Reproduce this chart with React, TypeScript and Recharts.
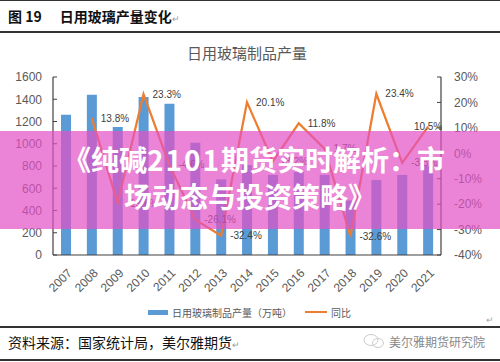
import { ComposedChart, Bar, Line, XAxis, YAxis, LabelList } from "recharts";

// 日用玻璃制品产量（万吨）与同比，2007-2021
const years = ["2007", "2008", "2009", "2010", "2011", "2012", "2013", "2014", "2015", "2016", "2017", "2018", "2019", "2020", "2021"];
const output = [1260, 1440, 1150, 1420, 1360, 1010, 680, 810, 720, 745, 720, 490, 675, 720, 805];
const yoy = [null, 13.8, -19.6, 23.3, -4.6, -26.1, -32.4, 20.1, -3.2, 11.8, 1.7, -32.6, 23.4, -3.8, 10.5];
const leftTicks = [0, 200, 400, 600, 800, 1000, 1200, 1400, 1600];
const rightTicks = [-40, -30, -20, -10, 0, 10, 20, 30];

const BLUE = "#5B9BD5";
const ORANGE = "#ED7D31";
const AXIS = "#404040";
const GREY = "#595959";
const CJK = '"Noto Sans CJK SC", "Noto Sans", sans-serif';
const LATIN = '"Liberation Sans", Arial, sans-serif';

const rows = years.map((year, i) => ({ year, output: output[i], yoy: yoy[i] }));

function YearTick(props: any) {
  const { x, y, payload } = props;
  const tx = x + 4;
  const ty = y + 8;
  return (
    <text
      x={tx}
      y={ty}
      transform={`rotate(-45 ${tx} ${ty})`}
      textAnchor="end"
      dominantBaseline="central"
      fontSize={12}
      fontFamily={LATIN}
      fill={GREY}
    >
      {payload.value}
    </text>
  );
}

function YoyLabel(props: any) {
  const { x, y, value, index } = props;
  if (value == null) return null;
  const last = index === years.length - 1;
  return (
    <text
      x={last ? x : x + 9}
      y={y}
      textAnchor={last ? "middle" : "start"}
      dominantBaseline="central"
      fontSize={10}
      fontFamily={LATIN}
      fill={AXIS}
    >
      {`${Number(value).toFixed(1)}%`}
    </text>
  );
}

export default function App() {
  return (
    <div
      style={{
        position: "absolute",
        left: 0,
        top: 0,
        width: 500,
        height: 362,
        background: "#fff",
        overflow: "hidden",
        fontFamily: CJK,
      }}
    >
      {/* report header */}
      <div style={{ position: "absolute", left: 0, top: 0, width: 500, height: 1, background: "#333" }} />
      <div style={{ position: "absolute", left: 8, top: 6, fontSize: 14, fontWeight: 700, color: "#111", whiteSpace: "nowrap" }}>
        图 19<span style={{ display: "inline-block", width: 18 }} />日用玻璃产量变化
        <span style={{ fontSize: 9, fontWeight: 400, color: "#999" }}>↵</span>
      </div>
      <div style={{ position: "absolute", left: 0, top: 31, width: 500, height: 1.5, background: "#333" }} />

      <div style={{ position: "absolute", left: 0, top: 42, width: 500, textAlign: "center", fontSize: 15, color: GREY }}>
        <span style={{ position: "relative", left: -3 }}>日用玻璃制品产量</span>
      </div>

      <div style={{ position: "absolute", left: 0, top: 0 }}>
        <ComposedChart width={500} height={362} data={rows} margin={{ top: 77, right: 14, bottom: 77, left: 13 }}>
          <XAxis
            dataKey="year"
            height={30}
            tick={<YearTick />}
            tickLine={false}
            axisLine={{ stroke: AXIS, strokeWidth: 1.2 }}
            interval={0}
          />
          <YAxis
            yAxisId="left"
            width={40}
            domain={[0, 1600]}
            ticks={leftTicks}
            tickSize={-4}
            tickMargin={15}
            tickLine={{ stroke: AXIS }}
            axisLine={{ stroke: AXIS, strokeWidth: 1.2 }}
            tick={{ fontSize: 12, fontFamily: LATIN, fill: GREY }}
          />
          <YAxis
            yAxisId="right"
            orientation="right"
            width={45}
            domain={[-40, 30]}
            ticks={rightTicks}
            tickSize={-4}
            tickMargin={17}
            tickLine={{ stroke: AXIS }}
            axisLine={{ stroke: AXIS, strokeWidth: 1.2 }}
            tickFormatter={(v: number) => `${v}%`}
            tick={{ fontSize: 12, fontFamily: LATIN, fill: GREY, textAnchor: "start" }}
          />
          <Bar yAxisId="left" dataKey="output" fill={BLUE} barSize={10} isAnimationActive={false} />
          <Line
            yAxisId="right"
            dataKey="yoy"
            stroke={ORANGE}
            strokeWidth={2.25}
            dot={false}
            type="linear"
            isAnimationActive={false}
          >
            <LabelList dataKey="yoy" content={<YoyLabel />} />
          </Line>
        </ComposedChart>
      </div>

      {/* legend */}
      <div style={{ position: "absolute", left: 148, top: 310, width: 20, height: 5, background: BLUE }} />
      <div style={{ position: "absolute", left: 172, top: 305, fontSize: 10, color: GREY, whiteSpace: "nowrap" }}>日用玻璃制品产量（万吨）</div>
      <div style={{ position: "absolute", left: 305, top: 311, width: 22, height: 2, background: ORANGE }} />
      <div style={{ position: "absolute", left: 331, top: 305, fontSize: 10, color: GREY, whiteSpace: "nowrap" }}>同比</div>

      {/* source footer */}
      <div style={{ position: "absolute", left: 486, top: 313, fontSize: 9, color: "#aaa" }}>↵</div>
      <div style={{ position: "absolute", left: 0, top: 326, width: 500, height: 1.5, background: "#333" }} />
      <div style={{ position: "absolute", left: 8, top: 332, fontSize: 14, color: "#111", whiteSpace: "nowrap" }}>
        资料来源：国家统计局，美尔雅期货<span style={{ fontSize: 9, color: "#999" }}>↵</span>
      </div>
      <svg style={{ position: "absolute", left: 363, top: 333 }} width={22} height={16}>
        <ellipse cx={8} cy={7} rx={7} ry={5.5} fill="none" stroke="#ccc" strokeWidth={1} />
        <ellipse cx={15} cy={10} rx={5.5} ry={4.5} fill="none" stroke="#ccc" strokeWidth={1} />
      </svg>
      <div style={{ position: "absolute", left: 389, top: 333, fontSize: 12, color: "#888", whiteSpace: "nowrap" }}>美尔雅期货研究院</div>
      <div style={{ position: "absolute", left: 0, top: 359, width: 500, height: 1.5, background: "#333" }} />

      {/* pink headline banner over the chart */}
      <div
        style={{
          position: "absolute",
          left: 0,
          top: 131,
          width: 500,
          height: 98,
          background: "rgba(226, 80, 196, 0.7)",
          color: "#fff",
          fontWeight: 700,
          fontSize: 28,
          textAlign: "center",
          lineHeight: "37px",
          paddingTop: 10,
          boxSizing: "border-box",
        }}
      >
        <div style={{ whiteSpace: "nowrap", position: "relative", left: 4 }}>
          《纯碱<span style={{ letterSpacing: 2 }}>2101</span>期货实时解析：市
        </div>
        <div style={{ whiteSpace: "nowrap" }}>场动态与投资策略》</div>
      </div>
    </div>
  );
}
